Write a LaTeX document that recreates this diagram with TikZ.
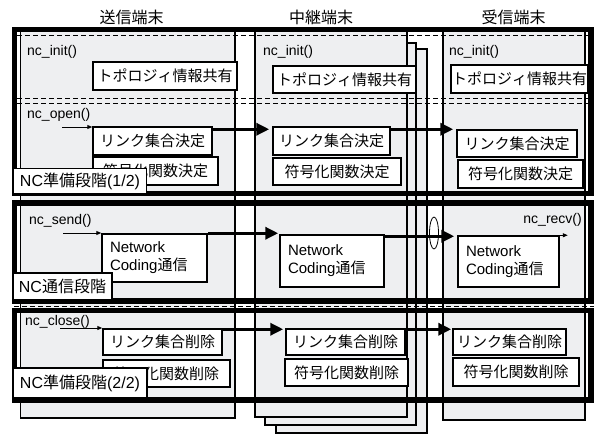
\documentclass[tikz,border=0pt]{standalone}
\usepackage{fontspec}
\setmainfont{Liberation Sans}
\newfontfamily\jp{Noto Sans CJK JP}
\usetikzlibrary{shapes.geometric,arrows.meta}
\definecolor{colbg}{RGB}{238,239,241}
\begin{document}
\begin{tikzpicture}[x=1pt,y=-1pt,
  col/.style={draw=black, line width=1.8pt, fill=colbg},
  band/.style={draw=black, line width=5.5pt},
  dsh/.style={draw=black, line width=1pt, dash pattern=on 5pt off 3pt},
  bx/.style={draw=black, line width=1.5pt, fill=white, inner sep=0pt, font=\jp\fontsize{15}{18}\selectfont},
  nc/.style={draw=black, line width=1.5pt, fill=white, inner sep=0pt, text width=#1, align=left, font=\fontsize{15}{18}\selectfont},
  fn/.style={anchor=west, inner sep=0pt, font=\fontsize{14}{16}\selectfont},
  hd/.style={inner sep=0pt, font=\jp\fontsize{16}{18}\selectfont},
  ph/.style={draw=black, line width=1.3pt, fill=white, inner sep=0pt, font=\fontsize{16}{18}\selectfont},
  big/.style={line width=3.5pt, -{Triangle[length=13pt,width=12pt]}},
  small/.style={line width=1pt, -{Triangle[length=5pt,width=4pt]}}
]
\useasboundingbox (0,0) rectangle (594,434);

% column headers
\node[hd] (hS) at (131.5,17) {送信端末};
\node[hd] (hM) at (321,17) {中継端末};
\node[hd] (hR) at (513.5,17) {受信端末};

% columns
\draw[col] (20.5,30) rectangle (235,418);
\draw[col] (276,49) rectangle (427,433);
\draw[col] (265,43) rectangle (416,425);
\draw[col] (255,30) rectangle (407,417);
\draw[col] (443,30) rectangle (585,420);

% dashed separators
\draw[dsh] (17,35) -- (594,35);
\draw[dsh] (17,98) -- (594,98);
\draw[dsh] (17,103) -- (594,103);
\draw[dsh] (14,306) -- (594,306);

% phase bands
\draw[band] (14.5,29.5) rectangle (591,193.5);
\draw[band] (14.5,203) rectangle (591,301);
\draw[band] (14.5,310.5) rectangle (591,400);

% function labels
\node[fn] (fiS) at (27,52) {nc\_init()};
\node[fn] (fiM) at (263,52) {nc\_init()};
\node[fn] (fiR) at (449,52) {nc\_init()};
\node[fn] (foS) at (27,115) {nc\_open()};
\node[fn] (fsS) at (29,221) {nc\_send()};
\node[fn, anchor=east] (frR) at (582,220) {nc\_recv()};
\node[fn] (fcS) at (25,322) {nc\_close()};

% band 1 boxes
\node[bx, minimum width=144pt, minimum height=28pt] (sTopo) at (165,76) {トポロジィ情報共有};
\node[bx, minimum width=143pt, minimum height=27pt] (mTopo) at (344.5,79.5) {トポロジィ情報共有};
\node[bx, minimum width=137pt, minimum height=28pt] (rTopo) at (519.5,79) {トポロジィ情報共有};
\node[bx, minimum width=119pt, minimum height=28pt] (sLink) at (152.5,141) {リンク集合決定};
\node[bx, minimum width=125pt, minimum height=28pt] (sCode) at (155.5,171) {符号化関数決定};
\node[bx, minimum width=117pt, minimum height=28pt] (mLink) at (331.5,141) {リンク集合決定};
\node[bx, minimum width=128pt, minimum height=27pt] (mCode) at (337,171.5) {符号化関数決定};
\node[bx, minimum width=120pt, minimum height=27pt] (rLink) at (517,143.5) {リンク集合決定};
\node[bx, minimum width=125pt, minimum height=28pt] (rCode) at (520.5,174) {符号化関数決定};

\coordinate (a1) at (62,127);
\draw[small] (a1) -- (a1 -| sLink.west);
\draw[big] ([yshift=-3pt]sLink.north east) -- ([yshift=-3pt,xshift=-3pt]sLink.north east -| mLink.west);
\draw[big] ([yshift=-3pt]mLink.north east) -- ([yshift=-3pt,xshift=-3pt]mLink.north east -| rLink.west);

% band 2 boxes
\node[nc=89pt, minimum width=105pt, minimum height=48pt] (sNC) at (154.5,258) {Network\\Coding{\jp 通信}};
\node[nc=88pt, minimum width=104pt, minimum height=52pt] (mNC) at (332,261) {Network\\Coding{\jp 通信}};
\node[nc=85pt, minimum width=101pt, minimum height=51pt] (rNC) at (508.5,261.5) {Network\\Coding{\jp 通信}};
\node[draw, ellipse, line width=0.8pt, minimum width=9pt, minimum height=32pt, inner sep=0pt] (el) at (434,233) {};

\coordinate (a2) at (63,233);
\draw[small] (a2) -- (a2 -| sNC.west);
\draw[big] (sNC.north east) -- ([xshift=-1pt]sNC.north east -| mNC.west);
\draw[big] ([yshift=-2pt]mNC.north east) -- ([yshift=-2pt,xshift=-3pt]mNC.north east -| rNC.west);
\draw[small] ([xshift=-20pt]rNC.north east) -- ([xshift=8pt]rNC.north east);

% band 3 boxes
\node[bx, minimum width=119pt, minimum height=26pt] (sLinkD) at (162.5,342) {リンク集合削除};
\node[bx, minimum width=127pt, minimum height=27pt] (sCodeD) at (166.5,373.5) {符号化関数削除};
\node[bx, minimum width=119pt, minimum height=26pt] (mLinkD) at (345.5,342) {リンク集合削除};
\node[bx, minimum width=123pt, minimum height=27pt] (mCodeD) at (346.5,372.5) {符号化関数削除};
\node[bx, minimum width=113pt, minimum height=26pt] (rLinkD) at (509.5,342) {リンク集合削除};
\node[bx, minimum width=126pt, minimum height=28pt] (rCodeD) at (516,372) {符号化関数削除};

\coordinate (a3) at (60,328);
\draw[small] (a3) -- (a3 -| sLinkD.west);
\draw[big] ([yshift=-1pt]sLinkD.north east) -- ([yshift=-1pt,xshift=-2pt]sLinkD.north east -| mLinkD.west);
\draw[big] ([yshift=-1pt]mLinkD.north east) -- ([yshift=-1pt,xshift=-1pt]mLinkD.north east -| rLinkD.west);

% phase labels
\node[ph, minimum width=133pt, minimum height=25pt] (p1) at (80,181) {NC{\jp 準備段階}(1/2)};
\node[ph, minimum width=99pt, minimum height=27pt] (p2) at (62.5,286.5) {NC{\jp 通信段階}};
\node[ph, minimum width=134pt, minimum height=30pt] (p3) at (80,383) {NC{\jp 準備段階}(2/2)};
\end{tikzpicture}
\end{document}
